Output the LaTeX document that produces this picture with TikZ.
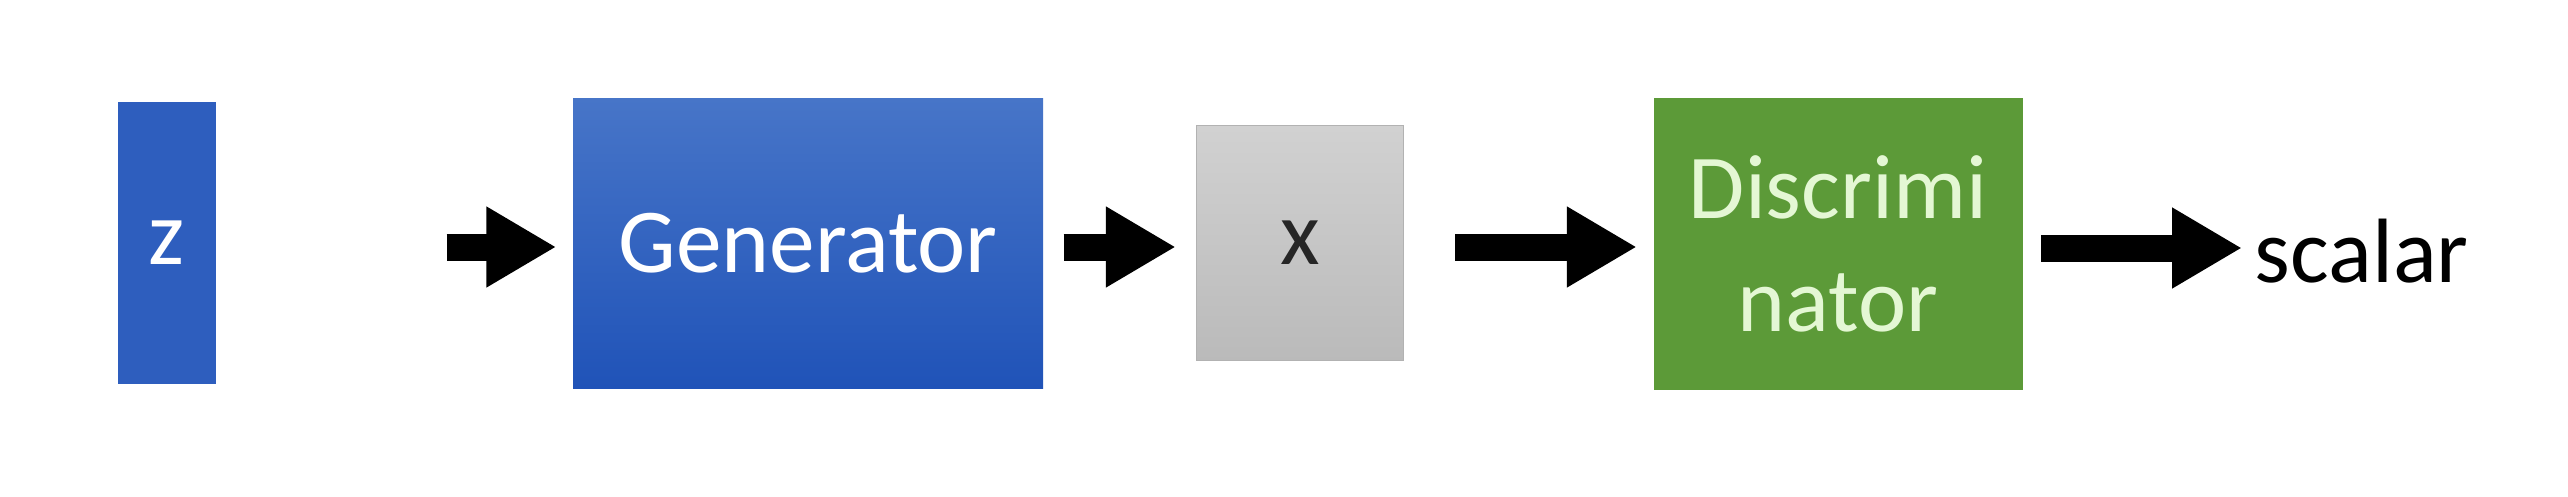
\documentclass[tikz,border=0pt]{standalone}
\usepackage{fontspec}
\setmainfont{Carlito}
\usetikzlibrary{arrows.meta}

\definecolor{zblue}{HTML}{2E5EBE}
\definecolor{gentop}{HTML}{4775C8}
\definecolor{genbot}{HTML}{2053B8}
\definecolor{disgreen}{HTML}{5C9A38}
\definecolor{distext}{HTML}{E4F7D4}

\begin{document}
\begin{tikzpicture}[
  font=\fontsize{26}{32}\selectfont,
  box/.style={draw=none,minimum width=#1,inner sep=0pt,align=center},
  blockarrow/.style={line width=0.27cm,-{Triangle[length=0.70cm,width=0.76cm]}}
]
\useasboundingbox (0,0) rectangle (25.68,4.96);
% blocks
\node[box=0.98cm,minimum height=2.82cm,fill=zblue,text=white] (z) at (1.67,2.53) {z};
\node[box=4.70cm,minimum height=2.90cm,top color=gentop,bottom color=genbot,text=white] (gen) at (8.08,2.53) {Generator};
\node[box=2.07cm,minimum height=2.35cm,draw=black!30,top color=black!18,bottom color=black!27,text=black!85] (xs) at (13.00,2.53) {x};
\node[box=3.69cm,minimum height=2.92cm,fill=disgreen,text=distext] (dis) at (18.38,2.52) {Discrimi\\nator};
\node[inner sep=0pt,anchor=west] (out) at (22.54,2.45) {scalar};
% arrows
\foreach \a/\b/\s/\e in {z/gen/2.30cm/0.16cm,gen/xs/0.20cm/0.20cm,xs/dis/0.51cm/0.16cm,dis/out/0.18cm/0.12cm}{
  \draw[blockarrow,shorten <=\s,shorten >=\e] ([yshift=-0.04cm]\a.east) -- ([yshift=-0.04cm]\a.east -| \b.west);
}
\end{tikzpicture}
\end{document}
